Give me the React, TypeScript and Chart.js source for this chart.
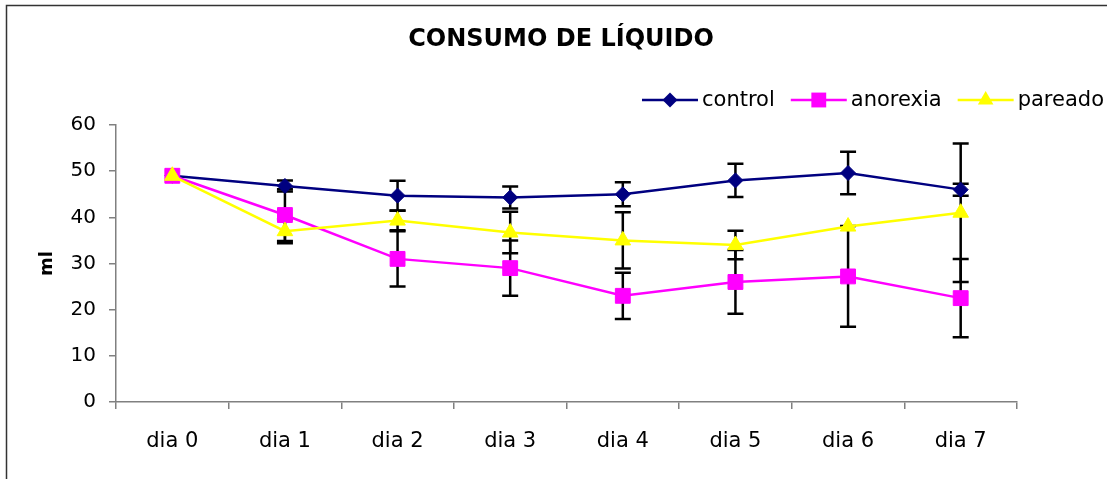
import React, { useEffect, useRef } from "react";
import { Chart, registerables } from "chart.js";

Chart.register(...registerables);

const titleText = "CONSUMO DE LÍQUIDO";
const yAxisTitle = "ml";
const categories = ["dia 0", "dia 1", "dia 2", "dia 3", "dia 4", "dia 5", "dia 6", "dia 7"];
const yTicks = [0, 10, 20, 30, 40, 50, 60];

const controlValues = [49, 46.8, 44.7, 44.3, 45, 48, 49.6, 46];
const anorexiaValues = [49, 40.5, 31, 29, 23, 26, 27.2, 22.5];
const pareadoValues = [49, 37, 39.3, 36.7, 35, 34, 38, 41];

const controlErrors = [0, 1.2, 3.2, 2.4, 2.6, 3.6, 4.6, 1.3];
const anorexiaErrors = [0, 5.6, 6, 6, 5, 6.9, 10.9, 8.5];
const pareadoErrors = [0, 2.6, 2.1, 4.5, 6.1, 3.1, 0, 15];

const seriesNames = ["control", "anorexia", "pareado"];

const FONT = "'DejaVu Sans', 'Liberation Sans', Arial, sans-serif";

export default function App() {
  const ref = useRef<HTMLCanvasElement | null>(null);

  useEffect(() => {
    if (!ref.current) return;
    const errorsByDataset = [controlErrors, anorexiaErrors, pareadoErrors];

    function drawMarker(ctx: CanvasRenderingContext2D, style: string, r: number, x: number, y: number) {
      ctx.beginPath();
      if (style === "rectRot") {
        ctx.moveTo(x - r, y);
        ctx.lineTo(x, y - r);
        ctx.lineTo(x + r, y);
        ctx.lineTo(x, y + r);
      } else if (style === "rect") {
        const s = Math.SQRT1_2 * r;
        ctx.rect(x - s, y - s, 2 * s, 2 * s);
      } else {
        const h = r * 1.5;
        const w = r * Math.sqrt(3);
        ctx.moveTo(x, y - r);
        ctx.lineTo(x + w / 2, y - r + h);
        ctx.lineTo(x - w / 2, y - r + h);
      }
      ctx.closePath();
      ctx.fill();
    }

    const framePlugin = {
      id: "frame",
      beforeDraw(chart: any) {
        const ctx = chart.ctx;
        ctx.save();
        ctx.fillStyle = "#ffffff";
        ctx.fillRect(0, 0, chart.width, chart.height);
        ctx.strokeStyle = "#333333";
        ctx.lineWidth = 1.5;
        ctx.strokeRect(6.5, 5.5, chart.width + 10, chart.height + 10);
        ctx.restore();
      },
    };

    const errorBarPlugin = {
      id: "errorBars",
      beforeDatasetsDraw(chart: any) {
        const ctx = chart.ctx;
        const y = chart.scales.y;
        ctx.save();
        ctx.strokeStyle = "#000000";
        ctx.lineWidth = 2.5;
        chart.data.datasets.forEach((ds: any, di: number) => {
          const meta = chart.getDatasetMeta(di);
          const errs = errorsByDataset[di];
          meta.data.forEach((pt: any, i: number) => {
            const e = errs[i];
            if (!e) return;
            const v = ds.data[i];
            const yTop = y.getPixelForValue(v + e);
            const yBot = y.getPixelForValue(v - e);
            const x = pt.x;
            ctx.beginPath();
            ctx.moveTo(x, yTop);
            ctx.lineTo(x, yBot);
            ctx.moveTo(x - 8, yTop);
            ctx.lineTo(x + 8, yTop);
            ctx.moveTo(x - 8, yBot);
            ctx.lineTo(x + 8, yBot);
            ctx.stroke();
          });
        });
        ctx.restore();
      },
    };

    const titleLegendPlugin = {
      id: "titleLegend",
      afterDraw(chart: any) {
        const ctx = chart.ctx;
        ctx.save();
        ctx.fillStyle = "#000000";
        ctx.font = `bold 24px ${FONT}`;
        ctx.textAlign = "center";
        ctx.textBaseline = "middle";
        ctx.fillText(titleText, 561, 40);

        ctx.font = `21px ${FONT}`;
        ctx.textAlign = "left";
        const lineLen = 56;
        const textGap = 4;
        const itemGap = 16;
        const widths = chart.data.datasets.map((d: any) => ctx.measureText(d.label).width);
        let total = 0;
        widths.forEach((w: number, i: number) => {
          total += lineLen + textGap + w + (i < widths.length - 1 ? itemGap : 0);
        });
        let x = 1104 - total;
        const ly = 100;
        chart.data.datasets.forEach((d: any, i: number) => {
          ctx.strokeStyle = d.borderColor;
          ctx.lineWidth = d.borderWidth;
          ctx.beginPath();
          ctx.moveTo(x, ly);
          ctx.lineTo(x + lineLen, ly);
          ctx.stroke();
          ctx.fillStyle = d.pointBackgroundColor;
          drawMarker(ctx, d.pointStyle, d.pointRadius, x + lineLen / 2, ly);
          ctx.fillStyle = "#000000";
          ctx.fillText(d.label, x + lineLen + textGap, ly + 1);
          x += lineLen + textGap + widths[i] + itemGap;
        });
        ctx.restore();
      },
    };

    const chart = new Chart(ref.current, {
      type: "line",
      data: {
        labels: categories,
        datasets: [
          {
            label: seriesNames[0],
            data: controlValues,
            borderColor: "#000080",
            backgroundColor: "#000080",
            pointBackgroundColor: "#000080",
            pointBorderColor: "#000080",
            pointStyle: "rectRot",
            pointRadius: 7.5,
            pointBorderWidth: 1,
            borderWidth: 2.5,
            order: 3,
          },
          {
            label: seriesNames[1],
            data: anorexiaValues,
            borderColor: "#FF00FF",
            backgroundColor: "#FF00FF",
            pointBackgroundColor: "#FF00FF",
            pointBorderColor: "#FF00FF",
            pointStyle: "rect",
            pointRadius: 10.5,
            pointBorderWidth: 1,
            borderWidth: 2.5,
            order: 2,
          },
          {
            label: seriesNames[2],
            data: pareadoValues,
            borderColor: "#FFFF00",
            backgroundColor: "#FFFF00",
            pointBackgroundColor: "#FFFF00",
            pointBorderColor: "#FFFF00",
            pointStyle: "triangle",
            pointRadius: 9,
            pointBorderWidth: 1,
            borderWidth: 2.5,
            order: 1,
          },
        ],
      },
      options: {
        responsive: false,
        animation: false,
        layout: { padding: { top: 125, right: 90, left: 0, bottom: 0 } },
        plugins: {
          legend: { display: false },
          title: { display: false },
          tooltip: { enabled: false },
        },
        scales: {
          x: {
            type: "category",
            offset: true,
            afterFit(scale: any) {
              scale.height = 77;
            },
            grid: {
              offset: true,
              drawOnChartArea: false,
              drawTicks: true,
              tickLength: 7,
              color: "#808080",
              lineWidth: 1.5,
            },
            border: { color: "#808080", width: 1.5 },
            ticks: {
              color: "#000000",
              font: { family: FONT, size: 21 },
              padding: 20,
              maxRotation: 0,
            },
          },
          y: {
            min: 0,
            max: 60,
            afterFit(scale: any) {
              scale.width = 116;
            },
            afterBuildTicks(scale: any) {
              scale.ticks = yTicks.map((v) => ({ value: v }));
            },
            grid: {
              drawOnChartArea: false,
              drawTicks: true,
              tickLength: 7,
              color: "#808080",
              lineWidth: 1.5,
            },
            border: { color: "#808080", width: 1.5 },
            ticks: {
              color: "#000000",
              font: { family: FONT, size: 20 },
              padding: 13,
            },
            title: {
              display: true,
              text: yAxisTitle,
              color: "#000000",
              font: { family: FONT, size: 18, weight: "bold" },
              padding: { top: 37, bottom: 0 },
            },
          },
        },
      },
      plugins: [framePlugin, errorBarPlugin, titleLegendPlugin],
    } as any);

    return () => chart.destroy();
  }, []);

  return (
    <div style={{ position: "absolute", left: 0, top: 0, width: 1107, height: 479 }}>
      <canvas ref={ref} width={1107} height={479} style={{ display: "block" }} />
    </div>
  );
}
